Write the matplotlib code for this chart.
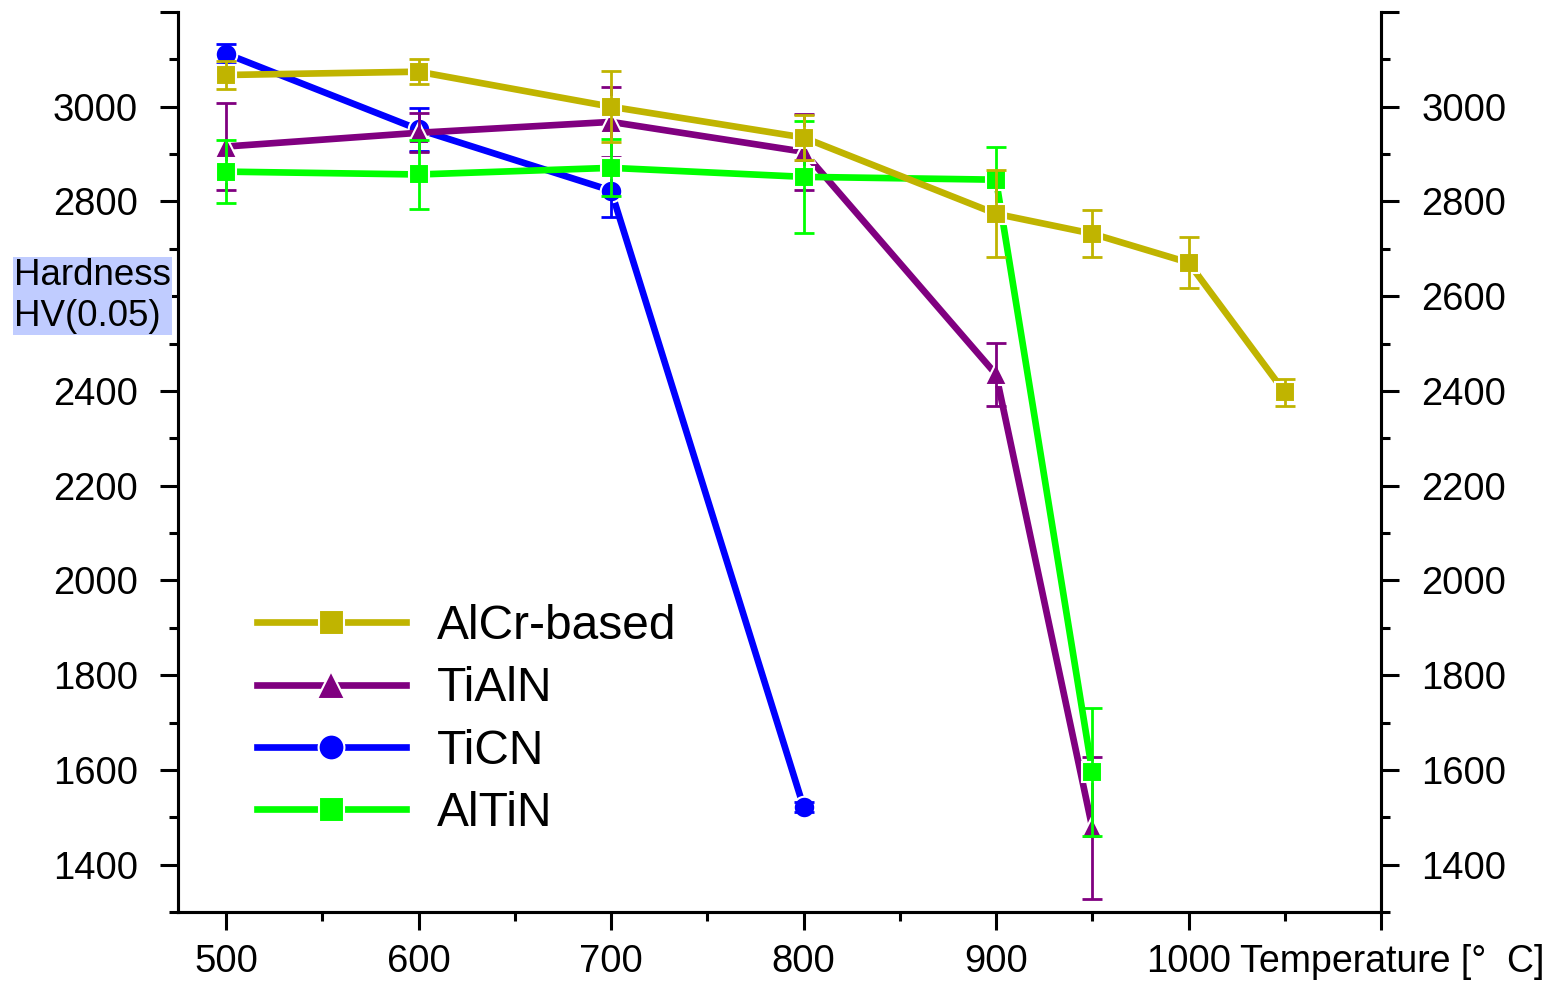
import matplotlib.pyplot as plt
from matplotlib.ticker import MultipleLocator, FixedLocator

plt.rcParams['font.family'] = ['Liberation Sans', 'DejaVu Sans']

# AlCr-based
alcr_t = [500, 600, 700, 800, 900, 950, 1000, 1050]
alcr_hv = [3067, 3074, 3000, 2935, 2774, 2732, 2671, 2397]
alcr_err = [30, 27, 75, 48, 92, 50, 53, 28]

# TiAlN
tialn_t = [500, 600, 700, 800, 900, 950]
tialn_hv = [2916, 2945, 2968, 2905, 2435, 1478]
tialn_err = [91, 41, 74, 80, 66, 150]

# TiCN
ticn_t = [500, 600, 700, 800]
ticn_hv = [3112, 2952, 2823, 1522]
ticn_err = [21, 45, 55, 10]

# AlTiN
altin_t = [500, 600, 700, 800, 900, 950]
altin_hv = [2863, 2857, 2871, 2852, 2846, 1596]
altin_err = [66, 72, 60, 118, 70, 135]

y_ticks = list(range(1400, 3201, 200))
left_labels = ['1400', '1600', '1800', '2000', '2200', '2400', '', '2800', '3000', '']
right_labels = ['1400', '1600', '1800', '2000', '2200', '2400', '2600', '2800', '3000', '']

olive = '#c0b400'
purple = '#800080'
blue = '#0000ff'
green = '#00ff00'

fig = plt.figure(figsize=(15.56, 9.82), dpi=100)
ax = fig.add_axes([178/1556, 1-912/982, (1381-178)/1556, 900/982])

series = [
    (ticn_t, ticn_hv, ticn_err, blue, 'o', 15.5, 'TiCN', 3),
    (tialn_t, tialn_hv, tialn_err, purple, '^', 16.5, 'TiAlN', 4),
    (altin_t, altin_hv, altin_err, green, 's', 15, 'AlTiN', 5),
    (alcr_t, alcr_hv, alcr_err, olive, 's', 15, 'AlCr-based', 6),
]
handles = {}
for t, hv, err, c, m, ms, lab, z in series:
    h, = ax.plot(t, hv, color=c, lw=4.8, marker=m, ms=ms,
                 mec='white', mew=1.5, label=lab, zorder=z)
    ax.errorbar(t, hv, yerr=err, fmt='none', ecolor=c, elinewidth=2,
                capsize=7.5, capthick=2, zorder=z + 0.5)
    handles[lab] = h

ax.set_xlim(475, 1100)
ax.set_ylim(1300, 3200)

ax.xaxis.set_major_locator(FixedLocator([500, 600, 700, 800, 900, 1000, 1100]))
ax.set_xticklabels(['500', '600', '700', '800', '900', '1000', ''])
ax.xaxis.set_minor_locator(FixedLocator([550, 650, 750, 850, 950, 1050]))

ax.set_yticks(y_ticks)
ax.set_yticklabels(left_labels)
ax.yaxis.set_minor_locator(MultipleLocator(100))

ax2 = ax.twinx()
ax2.set_ylim(1300, 3200)
ax2.set_yticks(y_ticks)
ax2.set_yticklabels(right_labels)
ax2.yaxis.set_minor_locator(MultipleLocator(100))

for a in (ax, ax2):
    a.spines['top'].set_visible(False)
    for s in ['left', 'right', 'bottom']:
        a.spines[s].set_linewidth(2.2)
    a.tick_params(axis='both', which='major', direction='out', length=13,
                  width=2.2, labelsize=27.5)
    a.tick_params(axis='both', which='minor', direction='out', length=6.5,
                  width=2.2)
    a.tick_params(axis='y', which='major', pad=16)
ax.tick_params(axis='x', which='major', pad=10)

fig.text(14/1556, 1-296/982, 'Hardness\nHV(0.05)', fontsize=26.5,
         ha='left', va='center', linespacing=1.2,
         bbox=dict(facecolor='#c0ccff', edgecolor='none', pad=1))
fig.text(1240/1556, 1-962/982, 'Temperature [°  C]', fontsize=27,
         ha='left', va='center')

order = ['AlCr-based', 'TiAlN', 'TiCN', 'AlTiN']
leg = ax2.legend([handles[k] for k in order], order, loc='upper left',
                 bbox_to_anchor=(0.03, 0.39), frameon=False, fontsize=34.5,
                 handlelength=3.1, handletextpad=0.65, labelspacing=0.36,
                 markerscale=1.2)

fig.savefig('out.png', dpi=100)
